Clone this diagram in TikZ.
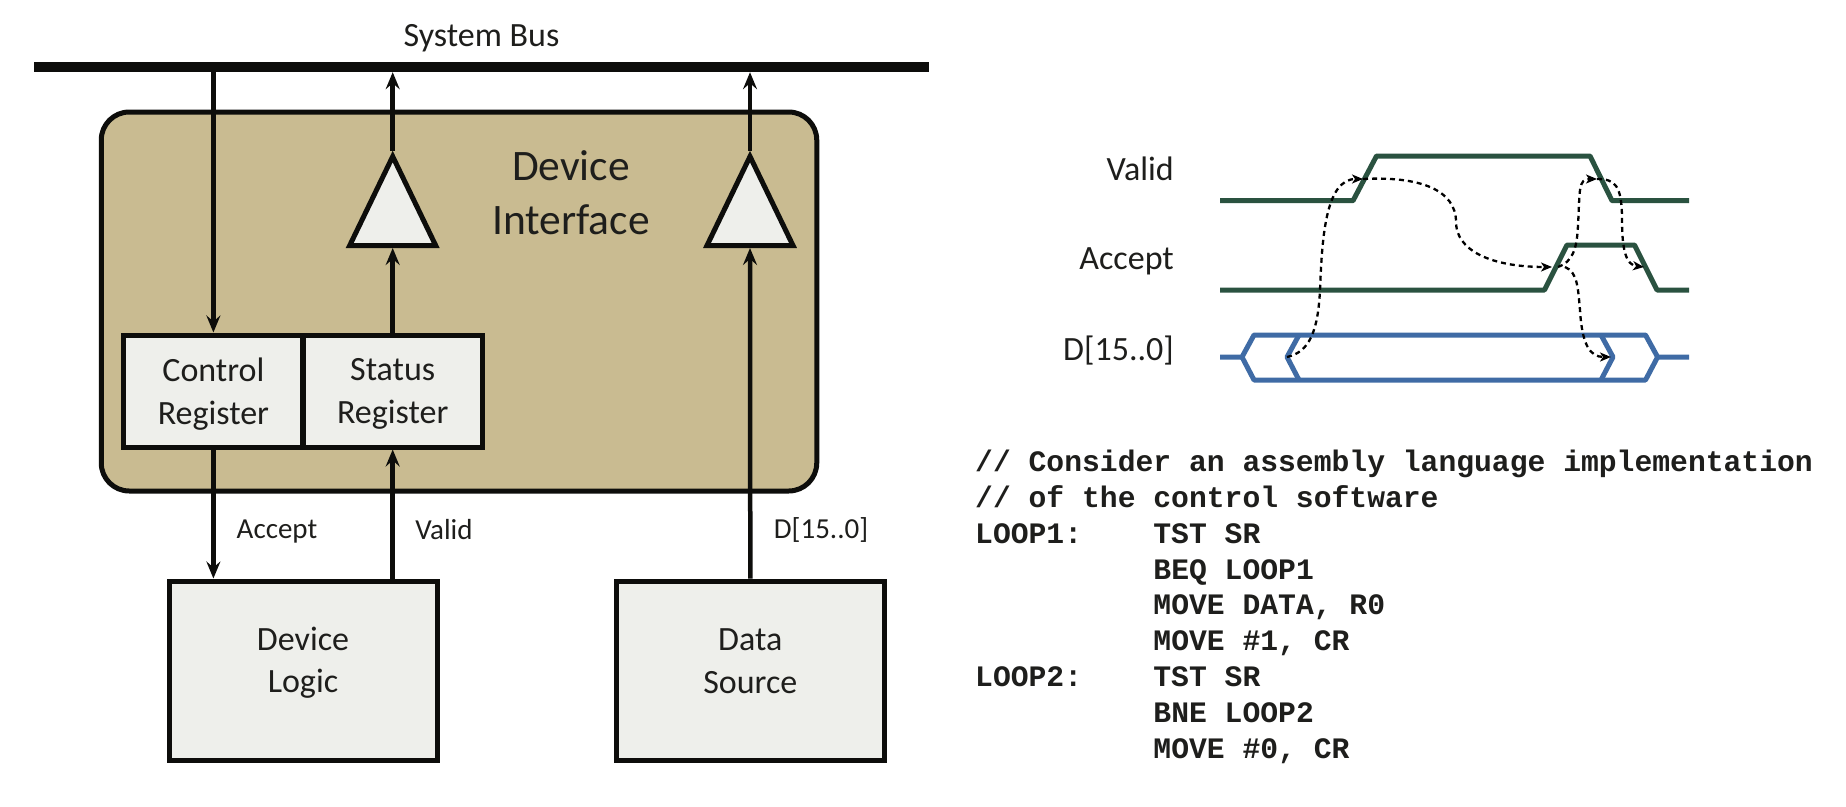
\documentclass[tikz,border=0pt]{standalone}
\usepackage{fontspec}
\setmainfont{Carlito}
\newfontfamily\codefont{Liberation Mono}
\usetikzlibrary{arrows.meta,shapes.geometric}
\definecolor{tanfill}{HTML}{C9BB91}
\definecolor{boxfill}{HTML}{EEEFEB}
\definecolor{inkc}{HTML}{0D0D0B}
\definecolor{wavegreen}{HTML}{2A5240}
\definecolor{waveblue}{HTML}{3F6BA5}
\definecolor{textc}{HTML}{1E1E1C}
\tikzset{
  box/.style={draw=inkc,fill=boxfill,line width=5pt,inner sep=0pt},
  boxtext/.style={text=textc,align=center,inner sep=0pt,font=\fontsize{34}{42.5}\selectfont},
  buffertri/.style={draw=inkc,fill=boxfill,line width=5pt,isosceles triangle,shape border rotate=90,isosceles triangle apex angle=52,isosceles triangle stretches,minimum width=86pt,minimum height=89pt,inner sep=0pt,anchor=lower side},
  arr/.style={draw=inkc,line width=4.5pt,-{Stealth[length=17pt,width=14pt,inset=6pt]}},
  lbl/.style={text=textc,font=\fontsize{29}{36}\selectfont,anchor=center,inner sep=0pt},
  timelbl/.style={text=textc,font=\fontsize{34}{40}\selectfont,anchor=east,inner sep=0pt},
  greenwave/.style={draw=wavegreen,line width=5pt,line join=round},
  bluewave/.style={draw=waveblue,line width=5pt,line join=round},
  handshake/.style={draw=black,line width=2.3pt,dash pattern=on 5pt off 4pt},
  handshakearr/.style={handshake,-{Stealth[length=11pt,width=9pt,inset=3pt]}},
}
\begin{document}
\begin{tikzpicture}[x=1pt,y=-1pt]
\useasboundingbox (0,0) rectangle (1846,806);
% interface box
\node[draw=inkc,fill=tanfill,line width=5pt,rounded corners=28pt,minimum width=715.5pt,minimum height=379pt,inner sep=0pt] (iface) at (459,301.5) {};
\node[text=textc,align=center,inner sep=0pt,font=\fontsize{43.5}{54}\selectfont] (ifacetext) at (571,193) {Device\\Interface};
% bus
\node[fill=inkc,minimum width=895pt,minimum height=10pt,inner sep=0pt] (bus) at (481.5,67) {};
\node[text=textc,inner sep=0pt,font=\fontsize{34}{40}\selectfont] (bustext) at (481.5,38) {System Bus};
% registers
\node[box,minimum width=179pt,minimum height=112pt] (ctrl) at (213.4,391) {};
\node[box,minimum width=179pt,minimum height=112pt] (stat) at (392.7,391) {};
\node[boxtext] (ctrltext) at (213.4,394) {Control\\Register};
\node[boxtext] (stattext) at (392.7,394) {Status\\Register};
% lower boxes
\node[box,minimum width=268pt,minimum height=179pt] (logic) at (303,670.5) {};
\node[boxtext] (logictext) at (303,662.5) {Device\\Logic};
\node[box,minimum width=268pt,minimum height=179pt] (source) at (750.3,670.5) {};
\node[boxtext] (sourcetext) at (750.3,661) {Data\\Source};
% buffers
\node[buffertri] (buf1) at (392.7,248) {};
\node[buffertri] (buf2) at (750,248) {};
% connectors
\draw[arr] (bus.south -| ctrl.north) -- (ctrl.north);
\draw[arr] (stat.north) -- (buf1.lower side);
\draw[arr] (buf1.apex) -- (bus.south -| buf1.apex);
\draw[arr] (source.north) -- (buf2.lower side);
\draw[arr] (buf2.apex) -- (bus.south -| buf2.apex);
\coordinate (acceptin) at (logic.north -| ctrl.south);
\coordinate (validout) at (logic.north -| stat.south);
\draw[arr] (ctrl.south) -- (acceptin);
\draw[arr] (validout) -- (stat.south);
% labels
\node[lbl] (acceptlbl) at (277,532) {Accept};
\node[lbl] (validlbl) at (444,530) {Valid};
\node[lbl] (dlbl) at (821,530) {D[15..0]};
\node[timelbl] (tvalid) at (1174,168.5) {Valid};
\node[timelbl] (taccept) at (1174,261.5) {Accept};
\node[timelbl] (tdata) at (1174,351) {D[15..0]};
% waveforms
\draw[greenwave] (1220,200.7) -- (1353,200.7) -- (1376.5,156) -- (1590,156) -- (1612,200.7) -- (1689,200.7);
\draw[greenwave] (1220,290) -- (1544.5,290) -- (1567,245) -- (1634.5,245) -- (1657,290) -- (1689,290);
\draw[bluewave] (1220,357) -- (1242,357) -- (1254,335) -- (1645.5,335) -- (1657.6,357) -- (1689,357);
\draw[bluewave] (1242,357) -- (1254,380) -- (1645.5,380) -- (1657.6,357);
\draw[bluewave] (1299,335) -- (1287,357) -- (1299,380);
\draw[bluewave] (1601,335) -- (1613,357) -- (1601,380);
% handshake
\coordinate (dstart) at (1287,357);
\coordinate (vrise) at (1363,179);
\coordinate (arise) at (1552,267);
\coordinate (arisea) at (1558,267);
\coordinate (arisec) at (1565,267);
\coordinate (vfall) at (1597,179);
\coordinate (dend) at (1611,357);
\coordinate (afall) at (1644,267);
\draw[handshakearr] (dstart) .. controls (1310,352) and (1318,330) .. (1320,290) .. controls (1322,240) and (1325,179) .. (vrise);
\draw[handshakearr] (vrise) .. controls (1420,176) and (1456,190) .. (1456,222) .. controls (1456,250) and (1490,267) .. (arise);
\draw[handshakearr] (arisea) .. controls (1572,262) and (1577,250) .. (1578,225) .. controls (1580,190) and (1578,179) .. (vfall);
\draw[handshakearr] (arisec) .. controls (1578,272) and (1578,290) .. (1580,310) .. controls (1582,345) and (1590,357) .. (dend);
\draw[handshakearr] (vfall) .. controls (1615,179) and (1622,185) .. (1622,220) .. controls (1622,250) and (1626,265) .. (afall);
% code
\node[anchor=north west,inner sep=0pt,align=left,text=textc,font=\codefont\bfseries\fontsize{29.7}{35.8}\selectfont] (code) at (975,450) {%
// Consider an assembly language implementation\\
// of the control software\\
LOOP1:\ \ \ \ TST SR\\
\ \ \ \ \ \ \ \ \ \ BEQ LOOP1\\
\ \ \ \ \ \ \ \ \ \ MOVE DATA, R0\\
\ \ \ \ \ \ \ \ \ \ MOVE \#1, CR\\
LOOP2:\ \ \ \ TST SR\\
\ \ \ \ \ \ \ \ \ \ BNE LOOP2\\
\ \ \ \ \ \ \ \ \ \ MOVE \#0, CR};
\end{tikzpicture}
\end{document}
